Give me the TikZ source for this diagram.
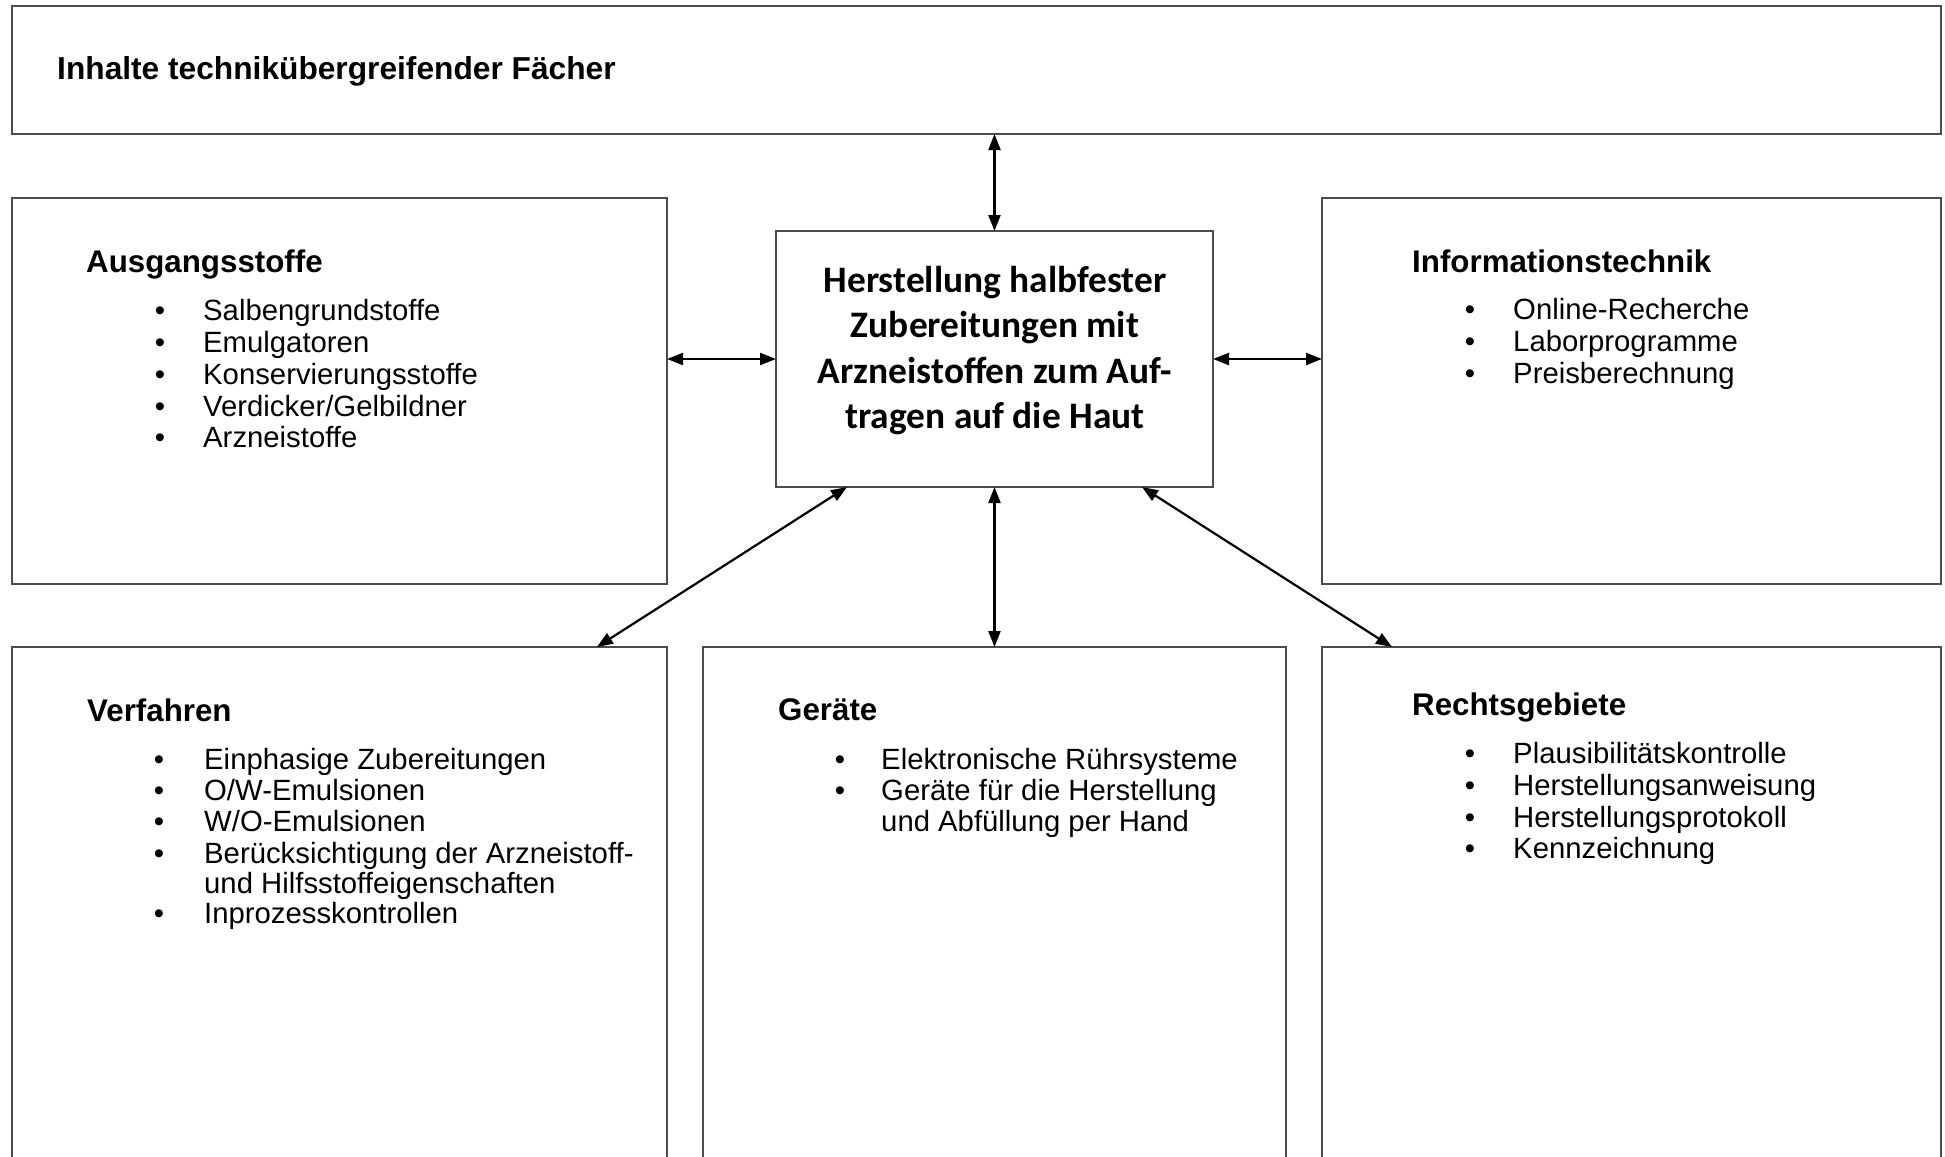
\documentclass[tikz,border=0pt]{standalone}
\usepackage{fontspec}
\setmainfont{Liberation Sans}
\newfontfamily\calib{Carlito}
\usetikzlibrary{arrows.meta,calc}
\begin{document}
\begin{tikzpicture}[x=1pt,y=-1pt,
  panel/.style={draw=black!70, line width=1.3pt, rectangle, inner sep=0pt, outer sep=0pt, anchor=north west},
  head/.style={anchor=base west, inner sep=0pt, font=\fontsize{31.3}{37}\selectfont\bfseries},
  entry/.style={anchor=base west, inner sep=0pt, font=\fontsize{29.3}{31.5}\selectfont},
  dot/.style={anchor=base, inner sep=0pt, font=\fontsize{29.3}{31.5}\selectfont},
  core/.style={anchor=base, inner sep=0pt, font=\calib\bfseries\fontsize{37.4}{45}\selectfont},
  link/.style={line width=2.2pt, {Triangle[length=16pt,width=12pt]}-{Triangle[length=16pt,width=12pt]}}]
\useasboundingbox (0,0) rectangle (1945,1156);
\fill[white] (0,0) rectangle (1945,1156);

% frames
\node[panel, minimum width=1929pt, minimum height=128pt] (top) at (12,6) {};
\node[panel, minimum width=655pt, minimum height=386pt] (left) at (12,198) {};
\node[panel, minimum width=437pt, minimum height=256pt] (center) at (776,231) {};
\node[panel, minimum width=619pt, minimum height=386pt] (right) at (1322,198) {};
\node[panel, minimum width=655pt, minimum height=540pt] (bl) at (12,647) {};
\node[panel, minimum width=583pt, minimum height=540pt] (bm) at (703,647) {};
\node[panel, minimum width=619pt, minimum height=540pt] (br) at (1322,647) {};

% top heading
\node[head, font=\fontsize{31.7}{37}\selectfont\bfseries] (toptitle) at (57,79) {Inhalte technikübergreifender Fächer};

% central topic
\node[core] (c1) at (995,292) {Herstellung halbfester};
\node[core] (c2) at (995,337) {Zubereitungen mit};
\node[core] (c3) at (995,383) {Arzneistoffen zum Auf-};
\node[core] (c4) at (995,428) {tragen auf die Haut};

% Ausgangsstoffe
\node[head] (h1) at (86,272) {Ausgangsstoffe};
\foreach \y/\t [count=\i] in {320/Salbengrundstoffe, 352/Emulgatoren, 384/Konservierungsstoffe, 416/{Verdicker/Gelbildner}, 447/Arzneistoffe}{
  \node[dot] (ad\i) at (160,\y) {•};
  \node[entry] (at\i) at (203,\y) {\t};
}

% Informationstechnik
\node[head] (h2) at (1412,272) {Informationstechnik};
\foreach \y/\t [count=\i] in {319/Online-Recherche, 351/Laborprogramme, 383/Preisberechnung}{
  \node[dot] (id\i) at (1470,\y) {•};
  \node[entry] (it\i) at (1513,\y) {\t};
}

% Verfahren
\node[head] (h3) at (87,721) {Verfahren};
\foreach \y/\t [count=\i] in {769/Einphasige Zubereitungen, 800/{O/W-Emulsionen}, 831/{W/O-Emulsionen}, 863/Berücksichtigung der Arzneistoff-, 923/Inprozesskontrollen}{
  \node[dot] (vd\i) at (159,\y) {•};
  \node[entry] (vt\i) at (204,\y) {\t};
}
\node[entry] (vt4b) at (204,893) {und Hilfsstoffeigenschaften};

% Geraete
\node[head] (h4) at (778,720) {Geräte};
\foreach \y/\t [count=\i] in {769/Elektronische Rührsysteme, 800/Geräte für die Herstellung}{
  \node[dot] (gd\i) at (840,\y) {•};
  \node[entry] (gt\i) at (881,\y) {\t};
}
\node[entry] (gt2b) at (881,831) {und Abfüllung per Hand};

% Rechtsgebiete
\node[head] (h5) at (1412,715) {Rechtsgebiete};
\foreach \y/\t [count=\i] in {763/Plausibilitätskontrolle, 795/Herstellungsanweisung, 827/Herstellungsprotokoll, 858/Kennzeichnung}{
  \node[dot] (rd\i) at (1470,\y) {•};
  \node[entry] (rt\i) at (1513,\y) {\t};
}

% connectors
\draw[link] (top.south -| center.north) -- (center.north);
\draw[link] (left.east |- center.west) -- (center.west);
\draw[link] (center.east) -- (right.west |- center.east);
\draw[link] (center.south) -- (bm.north);
\draw[link] ($(center.south west)!0.1625!(center.south east)$) -- ($(bl.north west)!0.893!(bl.north east)$);
\draw[link] ($(center.south west)!0.8375!(center.south east)$) -- ($(br.north west)!0.113!(br.north east)$);
\end{tikzpicture}
\end{document}
